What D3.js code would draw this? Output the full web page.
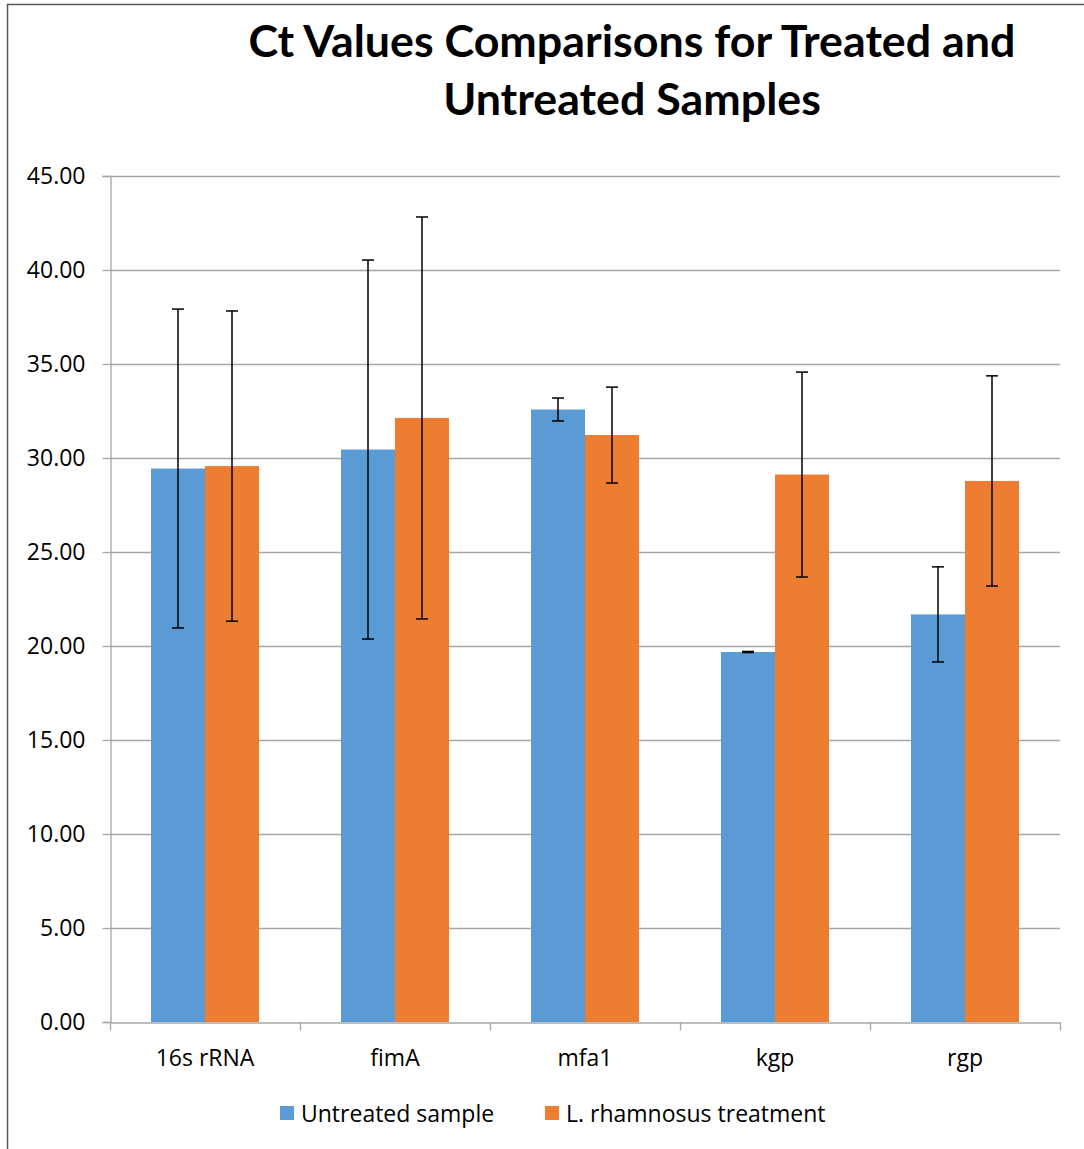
<!DOCTYPE html>
<html><head><meta charset="utf-8">
<script src="https://cdn.jsdelivr.net/npm/d3@7"></script>
<style>body{margin:0;background:#fff}svg{display:block}</style>
</head><body>
<script>
const categories = ["16s rRNA", "fimA", "mfa1", "kgp", "rgp"];
const seriesNames = ["Untreated sample", "L. rhamnosus treatment"];
const untreated = [29.44, 30.45, 32.58, 19.68, 21.68];
const untreatedErr = [8.48, 10.08, 0.61, 0.03, 2.53];
const treated = [29.57, 32.13, 31.22, 29.12, 28.78];
const treatedErr = [8.25, 10.69, 2.55, 5.45, 5.59];
const yTicks = [0, 5, 10, 15, 20, 25, 30, 35, 40, 45];
const titleLines = ["Ct Values Comparisons for Treated and", "Untreated Samples"];

const W = 1084, H = 1149;
const colors = ["#5B9BD5", "#ED7D31"];
const m = {left: 110, right: 1060, top: 176, bottom: 1022};
const FS = 23;

const svg = d3.select("body").append("svg").attr("width", W).attr("height", H);
svg.append("rect").attr("x", 7.5).attr("y", 4.5).attr("width", 1200).attr("height", 1300)
  .attr("fill", "#fff").attr("stroke", "#595959").attr("stroke-width", 1.5);

// title
const tt = svg.append("g");
const titleY = [57, 115];
titleLines.forEach((t, i) => {
  tt.append("text").attr("x", 632).attr("y", titleY[i]).attr("text-anchor", "middle")
    .attr("font-family", "Lato, 'Open Sans', sans-serif").attr("font-weight", "bold")
    .attr("font-size", 44).attr("fill", "#000").text(t);
});
const n0 = tt.select("text").node();
const w0 = n0.getComputedTextLength();
const fs = 44 * 767 / w0;
tt.selectAll("text").attr("font-size", fs);

const x = d3.scaleBand().domain(categories).range([m.left, m.right]).paddingInner(0).paddingOuter(0);
const inner = d3.scaleBand().domain([0, 1]).range([41, x.bandwidth() - 41]);
const y = d3.scaleLinear().domain([0, 45]).range([m.bottom, m.top]);

// gridlines
svg.append("g").selectAll("line").data(yTicks.filter(d => d > 0)).join("line")
  .attr("x1", m.left).attr("x2", m.right)
  .attr("y1", d => Math.round(y(d)) + 0.5).attr("y2", d => Math.round(y(d)) + 0.5)
  .attr("stroke", "#A6A6A6").attr("stroke-width", 1.3);

// y axis
const yAxis = d3.axisLeft(y).tickValues(yTicks).tickFormat(d3.format(".2f")).tickSize(8).tickPadding(17);
const ya = svg.append("g").attr("transform", `translate(${m.left + 0.5},0)`).call(yAxis);
ya.select(".domain").attr("stroke", "#A6A6A6").attr("stroke-width", 1.3);
ya.selectAll(".tick line").attr("stroke", "#A6A6A6").attr("stroke-width", 1.3);
ya.selectAll("text").attr("font-family", "'Open Sans', sans-serif").attr("font-size", FS).attr("fill", "#000");

// bars
const series = [
  {vals: untreated, err: untreatedErr},
  {vals: treated, err: treatedErr}
];
series.forEach((s, si) => {
  const g = svg.append("g");
  g.selectAll("rect").data(categories).join("rect")
    .attr("x", d => x(d) + inner(si)).attr("width", inner.bandwidth())
    .attr("y", (d, i) => y(s.vals[i])).attr("height", (d, i) => y(0) - y(s.vals[i]))
    .attr("fill", colors[si]);
});

// x axis
const xAxis = d3.axisBottom(x).tickSize(0).tickPadding(27);
const xa = svg.append("g").attr("transform", `translate(0,${m.bottom + 0.5})`).call(xAxis);
xa.select(".domain").attr("stroke", "#A6A6A6").attr("stroke-width", 1.3);
xa.selectAll("text").attr("font-family", "'Open Sans', sans-serif").attr("font-size", FS).attr("fill", "#000");
const bounds = categories.map(c => x(c)).concat([m.right]);
xa.append("g").selectAll("line").data(bounds).join("line")
  .attr("x1", d => d + 0.5).attr("x2", d => d + 0.5).attr("y1", 0).attr("y2", 8)
  .attr("stroke", "#A6A6A6").attr("stroke-width", 1.3);

// error bars
series.forEach((s, si) => {
  const g = svg.append("g").attr("stroke", "#000").attr("stroke-width", 1.5);
  categories.forEach((c, i) => {
    const cx = x(c) + inner(si) + inner.bandwidth() / 2;
    const hi = y(s.vals[i] + s.err[i]), lo = y(s.vals[i] - s.err[i]);
    g.append("line").attr("x1", cx).attr("x2", cx).attr("y1", hi).attr("y2", lo);
    g.append("line").attr("x1", cx - 6).attr("x2", cx + 6).attr("y1", hi).attr("y2", hi);
    g.append("line").attr("x1", cx - 6).attr("x2", cx + 6).attr("y1", lo).attr("y2", lo);
  });
});

// legend
const legX = [280, 545];
seriesNames.forEach((n, i) => {
  svg.append("rect").attr("x", legX[i]).attr("y", 1106).attr("width", 14).attr("height", 14).attr("fill", colors[i]);
  svg.append("text").attr("x", legX[i] + 21).attr("y", 1122)
    .attr("font-family", "'Open Sans', sans-serif").attr("font-size", FS).attr("fill", "#000").text(n);
});
</script>
</body></html>
